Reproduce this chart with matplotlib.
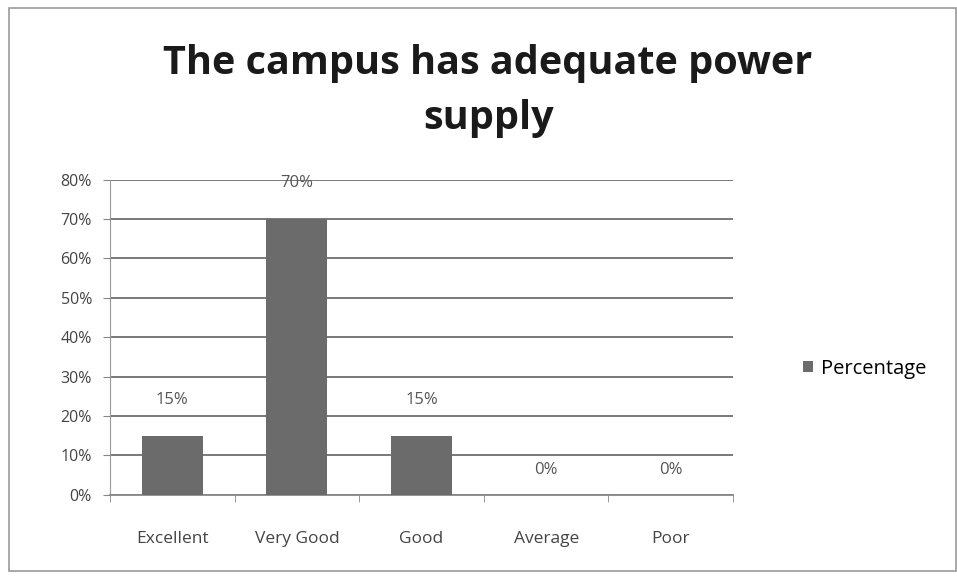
import matplotlib.pyplot as plt
import numpy as np

categories = ['Excellent', 'Very Good', 'Good', 'Average', 'Poor']
percentages = [15, 70, 15, 0, 0]
y_ticks = [0, 10, 20, 30, 40, 50, 60, 70, 80]

plt.rcParams['font.family'] = ['Open Sans', 'DejaVu Sans']

fig = plt.figure(figsize=(9.57, 5.76), dpi=100)
# light frame around the chart area
fig.patches.append(plt.Rectangle((0.009, 0.008), 0.99, 0.978, transform=fig.transFigure,
                                 fill=False, edgecolor='#9a9a9a', linewidth=1.2))

ax = fig.add_axes([0.115, 0.141, 0.651, 0.547])
x = np.arange(len(categories))
bars = ax.bar(x, percentages, width=0.49, color='#6b6b6b', label='Percentage', zorder=3)

for xi, v in zip(x, percentages):
    ax.annotate(f'{v}%', (xi, v), xytext=(0, 20 if v else 12), textcoords='offset points',
                ha='center', va='bottom', fontsize=12, color='#555555')

ax.set_xlim(-0.5, len(categories) - 0.5)
ax.set_ylim(0, 80)
ax.set_yticks(y_ticks)
ax.set_yticklabels([f'{t}%' for t in y_ticks], fontsize=11.5, color='#444444')
ax.set_xticks(x)
ax.set_xticklabels(categories, fontsize=12.5, color='#444444')
ax.set_xticks(np.arange(len(categories) + 1) - 0.5, minor=True)
ax.tick_params(axis='x', which='major', length=0, pad=26)
ax.tick_params(axis='x', which='minor', length=5, color='#888888')
ax.tick_params(axis='y', length=5, color='#888888', pad=8)
ax.yaxis.grid(True, color='#6e6e6e', linewidth=1.3, zorder=0)
for s in ['top', 'right']:
    ax.spines[s].set_visible(False)
ax.spines['left'].set_color('#999999')
ax.spines['bottom'].set_color('#888888')
ax.spines['bottom'].set_linewidth(1.3)

fig.text(0.51, 0.842, 'The campus has adequate power\nsupply', ha='center', va='center',
         fontsize=28.5, fontweight='bold', color='#1a1a1a', linespacing=1.55)

fig.legend(handles=[bars], labels=['Percentage'], loc='center left',
           bbox_to_anchor=(0.82, 0.36), frameon=False, fontsize=14.5,
           handlelength=0.5, handleheight=0.5, handletextpad=0.4)

fig.savefig('out.png', dpi=100, facecolor='white')
